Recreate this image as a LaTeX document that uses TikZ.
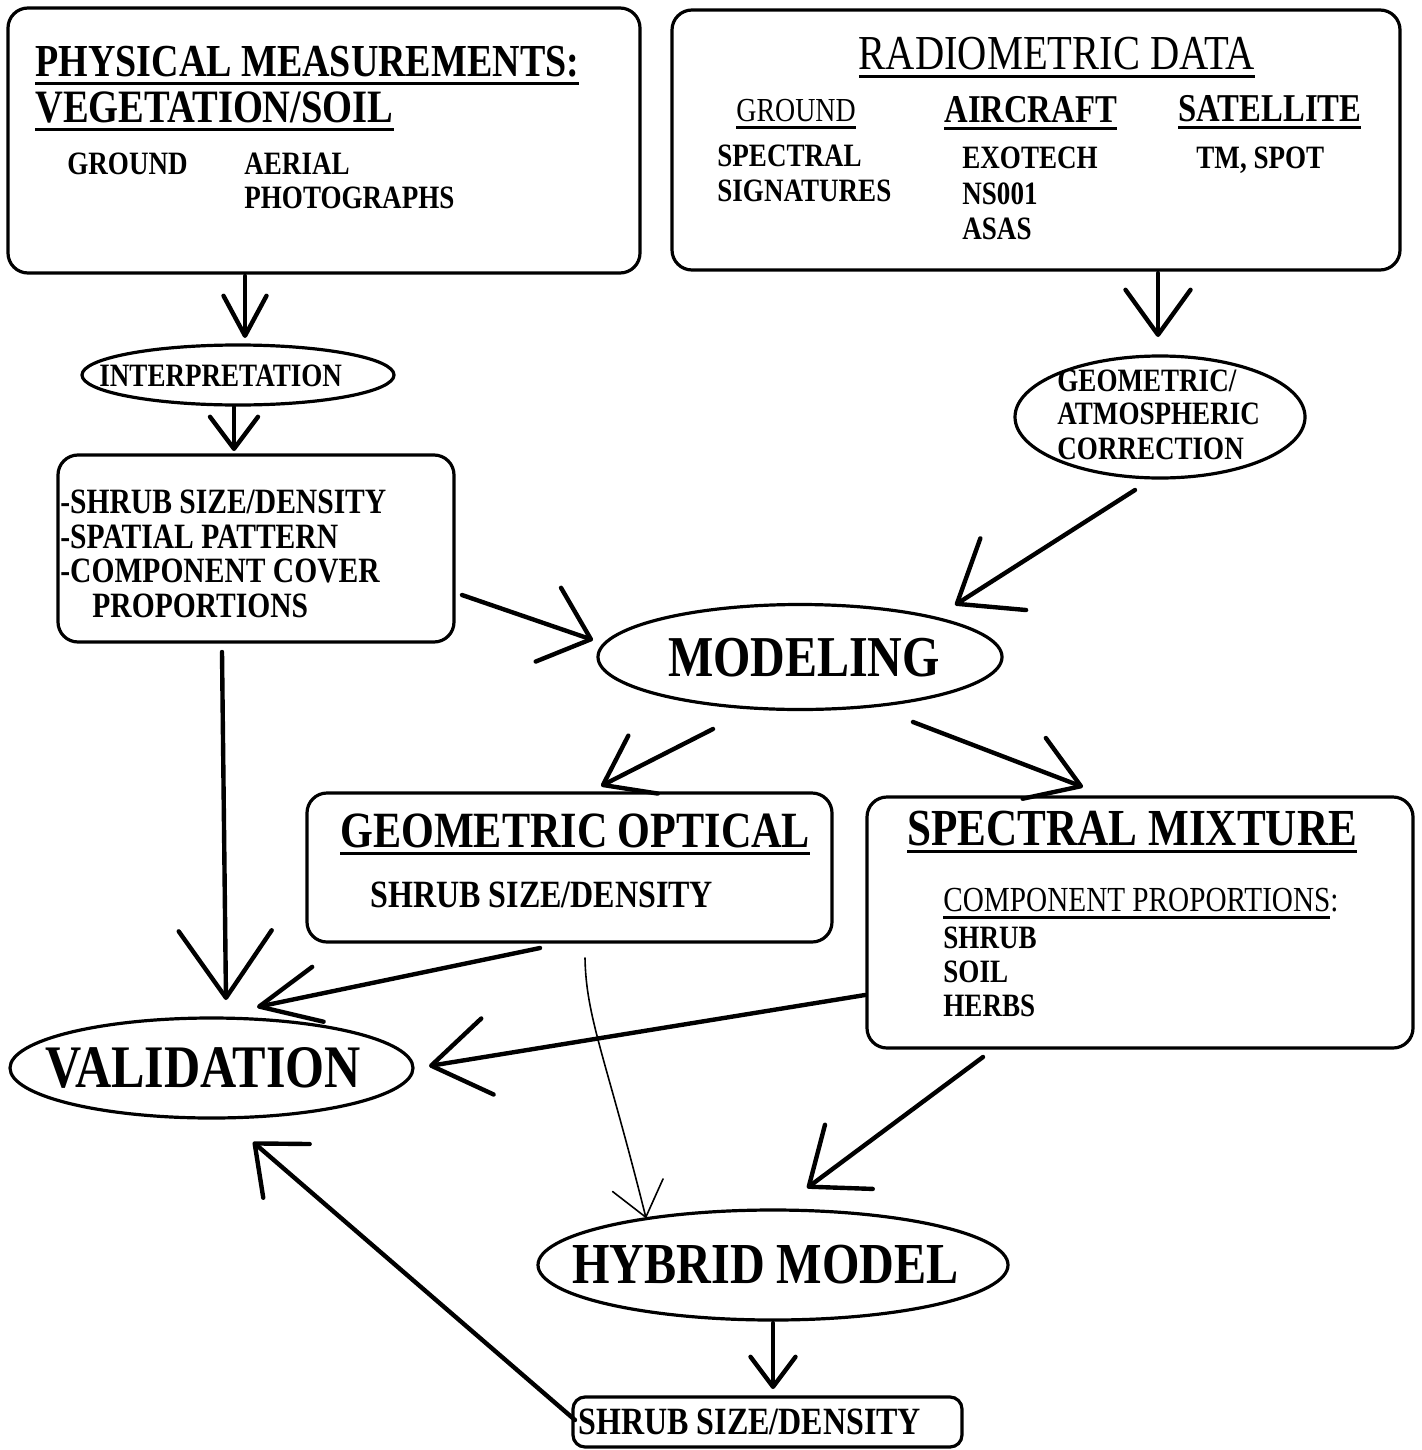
\documentclass[tikz,border=0pt]{standalone}
\usepackage{fontspec}
\setmainfont{Liberation Serif}[FakeStretch=0.83]
\usetikzlibrary{shapes.geometric,arrows.meta}
\newsavebox\ulbox
\newcommand\ulx[1]{\sbox\ulbox{#1}\rlap{\rule[-4pt]{\wd\ulbox}{1.4pt}}\usebox\ulbox}
\newcommand\fs[1]{\fontsize{#1}{#1}\selectfont}
\begin{document}
\begin{tikzpicture}[x=0.5pt,y=-0.5pt,
  boxn/.style={draw,line width=1.6pt,rounded corners=10pt,inner sep=0pt},
  elln/.style={draw,ellipse,line width=1.6pt,inner sep=0pt},
  txt/.style={anchor=base west,inner sep=0pt,font=\bfseries\fs{16.3}},
  arr/.style 2 args={line width=2.2pt,line cap=round,-{Straight Barb[length=#1pt,width=#2pt,round]}},
  thinarr/.style={line width=0.8pt,line cap=round,-{Straight Barb[length=16.5pt,width=26pt,round]}}]
\fill[white] (0,0) rectangle (1422,1450);
\useasboundingbox (0,0) rectangle (1422,1450);
% boxes
\node[boxn,minimum width=316pt,minimum height=132.5pt] (phys) at (324,140.5) {};
\node[boxn,minimum width=364pt,minimum height=130pt] (radio) at (1036,140) {};
\node[elln,minimum width=156pt,minimum height=30pt] (interp) at (238,375) {};
\node[elln,minimum width=145pt,minimum height=61pt] (geo) at (1160,417) {};
\node[boxn,minimum width=198pt,minimum height=93.5pt] (cover) at (256,548.5) {};
\node[elln,minimum width=202pt,minimum height=52.5pt] (modeling) at (800,657) {};
\node[boxn,minimum width=262.5pt,minimum height=74.5pt] (geoopt) at (569.5,867.5) {};
\node[boxn,minimum width=273pt,minimum height=125.5pt] (spec) at (1140,922.5) {};
\node[elln,minimum width=201.5pt,minimum height=50pt] (valid) at (211.5,1068) {};
\node[elln,minimum width=235pt,minimum height=55pt] (hybrid) at (773,1265) {};
\node[boxn,rounded corners=6pt,minimum width=194.5pt,minimum height=25pt] (shrub) at (767.5,1422) {};
% texts: physical box
\node[txt,font=\bfseries\fs{22.9}] (t1) at (35,77) {\ulx{PHYSICAL MEASUREMENTS:}};
\node[txt,font=\bfseries\fs{23.2}] (t2) at (35,123) {\ulx{VEGETATION/SOIL}};
\node[txt] (t3) at (67,174) {GROUND};
\node[txt] (t4) at (244,174) {AERIAL};
\node[txt] (t5) at (244,208) {PHOTOGRAPHS};
% radiometric box
\node[anchor=base,inner sep=0pt,font=\fs{24.4}] (r1) at (1057,70) {\ulx{RADIOMETRIC DATA}};
\node[txt,font=\fs{16.8}] (r2) at (736,121) {\ulx{GROUND}};
\node[txt,font=\bfseries\fs{19.7}] (r3) at (944,122) {\ulx{AIRCRAFT}};
\node[txt,font=\bfseries\fs{19.7}] (r4) at (1178,121) {\ulx{SATELLITE}};
\node[txt] (r5) at (717,166) {SPECTRAL};
\node[txt] (r6) at (717,201) {SIGNATURES};
\node[txt] (r7) at (962,169) {EXOTECH};
\node[txt] (r8) at (962,204) {NS001};
\node[txt] (r9) at (962,239) {ASAS};
\node[txt] (r10) at (1196,169) {TM, SPOT};
% interpretation
\node[txt] (i1) at (99,386) {INTERPRETATION};
% geo/atm
\node[txt] (g1) at (1057,391) {GEOMETRIC/};
\node[txt] (g2) at (1057,424) {ATMOSPHERIC};
\node[txt] (g3) at (1057,459) {CORRECTION};
% cover box
\node[txt,font=\bfseries\fs{17.8}] (c1) at (60,513) {-SHRUB SIZE/DENSITY};
\node[txt,font=\bfseries\fs{17.8}] (c2) at (60,548) {-SPATIAL PATTERN};
\node[txt,font=\bfseries\fs{17.8}] (c3) at (60,582) {-COMPONENT COVER};
\node[txt,font=\bfseries\fs{17.8}] (c4) at (92,617) {PROPORTIONS};
% modeling
\node[anchor=base,inner sep=0pt,font=\bfseries\fs{28.9}] (m1) at (804,676) {MODELING};
% geometric optical
\node[txt,font=\bfseries\fs{25.4}] (o1) at (340,847) {\ulx{GEOMETRIC OPTICAL}};
\node[txt,font=\bfseries\fs{19.3}] (o2) at (370,907) {SHRUB SIZE/DENSITY};
% spectral mixture
\node[txt,font=\bfseries\fs{26}] (s1) at (907,845) {\ulx{SPECTRAL MIXTURE}};
\node[txt,font=\fs{17.6}] (s2) at (943,911) {\ulx{COMPONENT PROPORTIONS}:};
\node[txt] (s3) at (943,948) {SHRUB};
\node[txt] (s4) at (943,982) {SOIL};
\node[txt] (s5) at (943,1016) {HERBS};
% validation, hybrid, shrub
\node[txt,font=\bfseries\fs{30.2}] (v1) at (45,1087) {VALIDATION};
\node[txt,font=\bfseries\fs{29}] (h1) at (572,1283) {HYBRID MODEL};
\node[txt,font=\bfseries\fs{19.3}] (b1) at (578,1434) {SHRUB SIZE/DENSITY};
% connectors
\draw[arr={20}{21.5}] ([shift={(-79,135.5)}]phys.center) -- ([shift={(7,-37)}]interp.center);
\draw[arr={16}{24}] ([shift={(-4,32)}]interp.center) -- ([shift={(-22,-97.5)}]cover.center);
\draw[arr={22.5}{32.5}] ([shift={(122,133)}]radio.center) -- ([shift={(-2,-80)}]geo.center);
\draw[arr={27.5}{42.5}] ([shift={(-25,73)}]geo.center) -- ([shift={(155,-52)}]modeling.center);
\draw[arr={22.5}{39}] ([shift={(206,46.5)}]cover.center) -- ([shift={(-207,-17)}]modeling.center);
\draw[arr={22.5}{32.5}] ([shift={(-87,72)}]modeling.center) -- ([shift={(31.5,-81.5)}]geoopt.center);
\draw[arr={25}{32.5}] ([shift={(113,65)}]modeling.center) -- ([shift={(-57,-135.5)}]spec.center);
\draw[arr={33.5}{46.5}] ([shift={(-34,103.5)}]cover.center) -- ([shift={(14.5,-68)}]valid.center);
\draw[arr={30}{28}] ([shift={(-29.5,80.5)}]geoopt.center) -- ([shift={(45.5,-61)}]valid.center);
\draw[arr={28.5}{38.5}] ([shift={(-275,72.5)}]spec.center) -- ([shift={(217.5,-2)}]valid.center);
\draw[arr={21}{35.5}] ([shift={(-192.5,-2)}]shrub.center) -- ([shift={(41.5,74)}]valid.center);
\draw[arr={25}{40}] ([shift={(-157,134.5)}]spec.center) -- ([shift={(34,-77)}]hybrid.center);
\draw[arr={15}{22.5}] ([shift={(0,58)}]hybrid.center) -- ([shift={(5.5,-33)}]shrub.center);
\draw[thinarr] ([shift={(15.5,90.5)}]geoopt.center) .. controls +(1,60) and +(-40,-160) .. ([shift={(-127,-47)}]hybrid.center);
\end{tikzpicture}
\end{document}
